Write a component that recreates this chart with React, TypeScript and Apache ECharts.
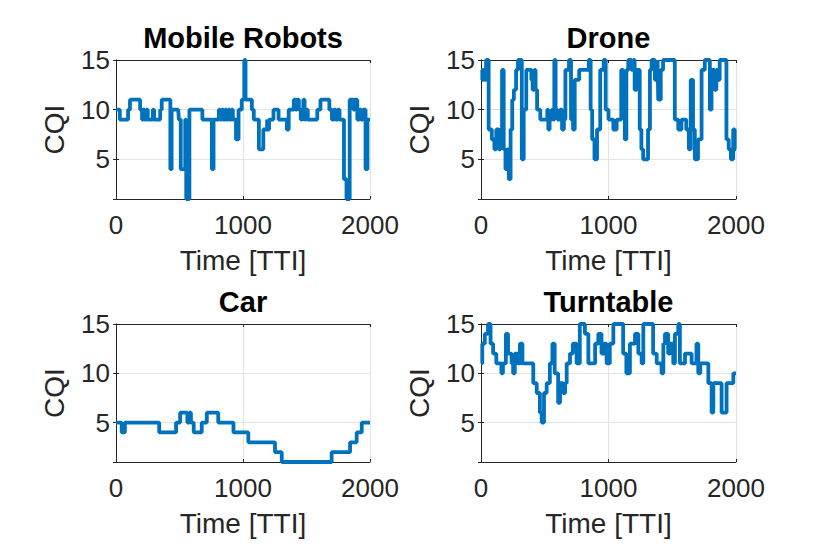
import React, { useEffect, useRef } from "react";
import * as echarts from "echarts";

const titles = ["Mobile Robots", "Drone", "Car", "Turntable"];
const xTicks = [0, 1000, 2000];
const yRange = [1, 15];

const robotsTTI = [0,30,95,110,190,205,215,225,240,250,290,300,348,360,428,438,490,495,510,545,553,578,640,680,755,768,800,810,820,835,845,860,870,885,895,910,920,945,965,990,1010,1020,1070,1085,1125,1160,1190,1195,1205,1240,1280,1345,1360,1400,1415,1425,1440,1455,1465,1475,1485,1495,1510,1585,1610,1680,1700,1715,1730,1745,1760,1795,1815,1840,1870,1880,1900,1915,1930,1945,1965,1980,2000];
const robotsCQI = [10,9,10,11,10,9,10,9,10,9,10,9,10,11,4,10,10,9,4,9,1,10,10,9,4,9,9,10,9,10,9,10,9,10,9,10,9,7,10,11,15,11,10,9,6,8,9,8,9,10,9,8,10,11,10,11,10,9,10,11,9,10,9,10,11,10,9,10,9,10,9,3,1,11,10,11,9,10,9,10,4,9,9];

const droneTTI = [0,10,20,30,40,60,85,105,120,140,152,165,178,192,205,218,232,245,258,275,290,320,335,355,385,395,405,418,428,440,465,520,528,538,555,565,575,585,600,620,636,650,662,690,706,722,735,770,845,860,872,890,910,935,962,978,1000,1038,1064,1100,1115,1128,1140,1155,1180,1195,1205,1220,1245,1258,1272,1310,1325,1338,1364,1385,1390,1410,1428,1520,1547,1572,1610,1630,1645,1663,1677,1702,1730,1755,1795,1808,1833,1846,1860,1872,1925,1943,1960,1978,1990,2000];
const droneCQI = [14,13,14,13,15,8,7,6,8,6,8,14,6,4,6,3,8,11,12,14,15,5,10,14,14,13,12,14,12,10,9,10,8,9,10,9,15,10,9,10,8,9,14,15,9,8,13,14,15,10,7,5,8,14,15,10,9,8,9,14,13,7,14,15,14,15,12,14,8,6,5,8,14,15,13,15,11,14,15,9,8,9,8,6,13,8,5,7,14,15,10,14,12,14,13,15,7,6,5,8,6,6];

const carTTI = [0,45,70,340,473,505,562,578,590,612,675,715,805,925,1042,1252,1305,1698,1843,1895,1935,2000];
const carCQI = [5,4,5,4,5,6,5,6,5,4,5,6,5,4,3,2,1,2,3,4,5,5];

const turnTTI = [0,10,30,55,75,95,120,160,172,195,212,240,252,265,290,305,325,410,437,462,476,494,515,540,560,578,605,620,645,660,672,698,720,750,775,815,842,895,920,945,965,985,1010,1038,1115,1140,1168,1208,1234,1260,1273,1350,1378,1416,1430,1443,1468,1482,1508,1521,1547,1560,1600,1652,1690,1704,1720,1783,1809,1822,1887,1926,1979,2000];
const turnCQI = [11,13,14,15,13,12,11,10,11,14,12,11,10,12,11,13,11,9,8,6,5,8,9,11,13,10,7,9,8,9,11,12,13,11,15,14,11,13,14,12,13,11,13,15,12,10,13,14,12,11,15,12,11,10,13,14,12,13,11,14,15,11,12,11,13,10,11,9,6,9,6,9,10,10];

const seriesX = [robotsTTI, droneTTI, carTTI, turnTTI];
const seriesY = [robotsCQI, droneCQI, carCQI, turnCQI];

const FONT = "'Liberation Sans', Arial, Helvetica, sans-serif";
const AXIS_COLOR = "#262626";
const GRID_COLOR = "#e3e3e3";
const LINE_COLOR = "#0072BD";

const grids = [
  { left: 116, top: 60, width: 254, height: 139 },
  { left: 481, top: 60, width: 255, height: 139 },
  { left: 116, top: 324, width: 254, height: 138 },
  { left: 481, top: 324, width: 255, height: 138 },
];

export default function App() {
  const ref = useRef<HTMLDivElement>(null);
  useEffect(() => {
    if (!ref.current) return;
    const chart = echarts.init(ref.current, undefined, { renderer: "svg" });
    const xAxis: any[] = [];
    const yAxis: any[] = [];
    const series: any[] = [];
    const graphic: any[] = [];
    grids.forEach((g, i) => {
      xAxis.push({
        type: "value",
        gridIndex: i,
        min: xTicks[0],
        max: xTicks[xTicks.length - 1],
        interval: xTicks[1] - xTicks[0],
        position: "bottom",
        name: "Time [TTI]",
        nameLocation: "middle",
        nameGap: 47,
        nameTextStyle: { fontFamily: FONT, fontSize: 28, color: AXIS_COLOR },
        axisLine: { show: true, lineStyle: { color: AXIS_COLOR, width: 1 } },
        axisTick: { show: true, inside: true, length: 3, lineStyle: { color: AXIS_COLOR } },
        axisLabel: {
          fontFamily: FONT,
          fontSize: 26,
          color: AXIS_COLOR,
          margin: 13,
          formatter: (v: number) => String(v),
        },
        splitLine: { show: true, lineStyle: { color: GRID_COLOR, width: 1 } },
      });
      xAxis.push({
        type: "value",
        gridIndex: i,
        min: xTicks[0],
        max: xTicks[xTicks.length - 1],
        interval: xTicks[1] - xTicks[0],
        position: "top",
        axisLine: { show: true, lineStyle: { color: AXIS_COLOR, width: 1 } },
        axisTick: { show: true, inside: true, length: 3, lineStyle: { color: AXIS_COLOR } },
        axisLabel: { show: false },
        splitLine: { show: false },
      });
      yAxis.push({
        type: "value",
        gridIndex: i,
        min: yRange[0],
        max: yRange[1],
        splitNumber: 3,
        position: "left",
        name: "CQI",
        nameLocation: "middle",
        nameGap: 48,
        nameTextStyle: { fontFamily: FONT, fontSize: 28, color: AXIS_COLOR },
        axisLine: { show: true, lineStyle: { color: AXIS_COLOR, width: 1 } },
        axisTick: { show: true, inside: true, length: 3, lineStyle: { color: AXIS_COLOR } },
        axisLabel: { fontFamily: FONT, fontSize: 26, color: AXIS_COLOR, margin: 6, showMinLabel: false },
        splitLine: { show: true, lineStyle: { color: GRID_COLOR, width: 1 } },
      });
      yAxis.push({
        type: "value",
        gridIndex: i,
        min: yRange[0],
        max: yRange[1],
        splitNumber: 3,
        position: "right",
        axisLine: { show: true, lineStyle: { color: AXIS_COLOR, width: 1 } },
        axisTick: { show: true, inside: true, length: 3, lineStyle: { color: AXIS_COLOR } },
        axisLabel: { show: false },
        splitLine: { show: false },
      });
      series.push({
        type: "line",
        xAxisIndex: i * 2,
        yAxisIndex: i * 2,
        step: "end",
        showSymbol: false,
        clip: false,
        lineStyle: { color: LINE_COLOR, width: 3.8 },
        data: seriesX[i].map((x, k) => [x, seriesY[i][k]]),
      });
      graphic.push({
        type: "text",
        x: g.left + g.width / 2,
        y: g.top - 22,
        style: {
          text: titles[i],
          fontFamily: FONT,
          fontSize: 29,
          fontWeight: "bold",
          fill: "#000",
          textAlign: "center",
          textVerticalAlign: "middle",
        },
      });
    });
    chart.setOption({
      animation: false,
      backgroundColor: "#fff",
      grid: grids.map((g) => ({ ...g, containLabel: false })),
      xAxis,
      yAxis,
      series,
      graphic,
    });
    return () => chart.dispose();
  }, []);
  return (
    <div
      ref={ref}
      style={{ position: "fixed", left: 0, top: 0, width: 830, height: 554 }}
    />
  );
}
